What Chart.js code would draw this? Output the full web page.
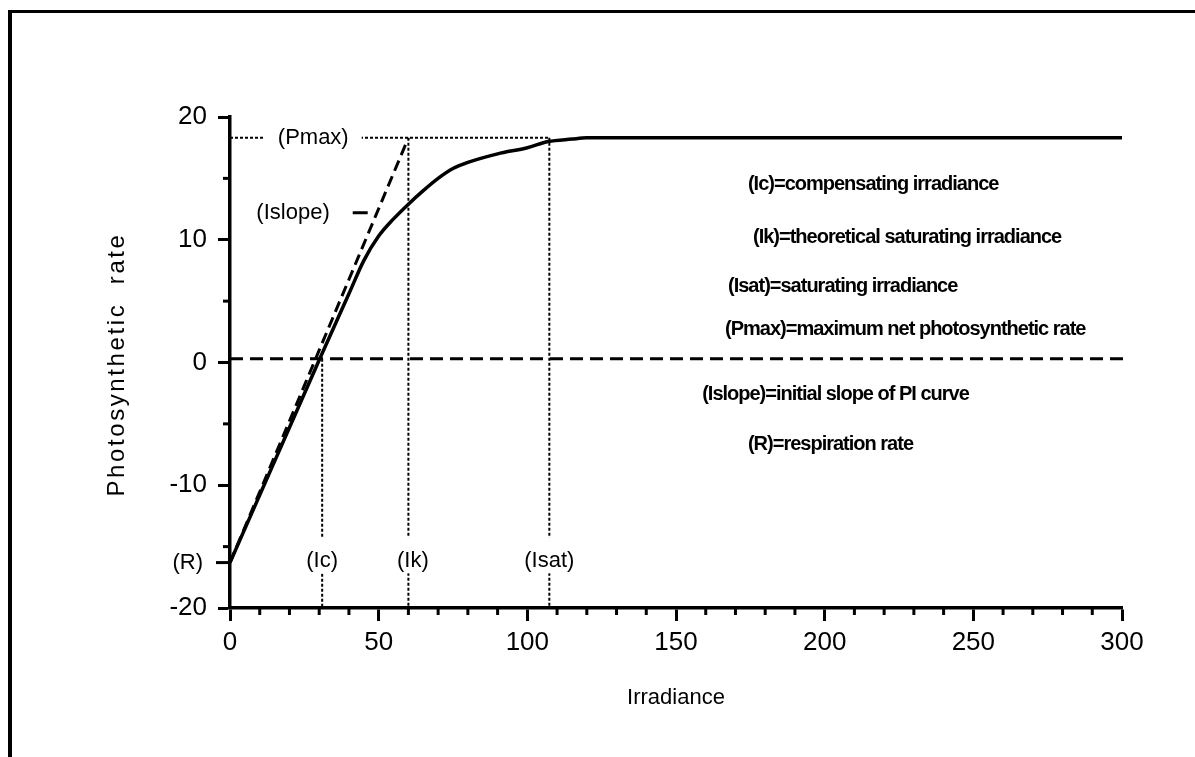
<!DOCTYPE html>
<html>
<head>
<meta charset="utf-8">
<title>PI curve</title>
<script src="https://cdn.jsdelivr.net/npm/chart.js@4.4.1/dist/chart.umd.min.js"></script>
<style>
  html, body { margin: 0; padding: 0; background: #fff; }
  #wrap { position: relative; width: 1195px; height: 757px; overflow: hidden; }
  #frame { position: absolute; left: 8px; top: 10px; right: -10px; bottom: -10px;
           border-top: 3px solid #000; border-left: 4px solid #000; }
  #piChart { position: absolute; left: 0; top: 0; }
</style>
</head>
<body>
<div id="wrap">
  <div id="frame"></div>
  <canvas id="piChart" width="1195" height="757"></canvas>
</div>
<script>
// PI curve: net photosynthetic rate against irradiance
const irradiance = [0, 10, 20, 30, 40, 45, 50, 55, 60, 65, 70, 75, 80, 90, 100, 107, 115, 120, 150, 200, 250, 300];
const photoRate  = [-16.3, -10.8, -5.3, 0.2, 5.6, 8.3, 10.3, 11.7, 12.9, 14.0, 15.0, 15.8, 16.3, 17.0, 17.5, 18.0, 18.2, 18.3, 18.3, 18.3, 18.3, 18.3];

// characteristic points
const respiration = -16.3;   // (R)
const pMax = 18.3;           // (Pmax)
const zeroLine = 0.3;        // dashed "zero" reference line
const zeroLineEnd = 302;
const iC = 31;               // (Ic)
const iK = 60;               // (Ik)
const iSat = 107.4;          // (Isat)

// axes
const xTicks = [0, 50, 100, 150, 200, 250, 300];
const xMinorTicks = [10, 20, 30, 40, 60, 70, 80, 90, 110, 120, 130, 140, 160, 170, 180, 190,
                     210, 220, 230, 240, 260, 270, 280, 290];
const yTicks = [-20, -10, 0, 10, 20];
const yMinorTicks = [-15, -5, 5, 15];

const definitions = [
  '(Ic)=compensating irradiance',
  '(Ik)=theoretical saturating irradiance',
  '(Isat)=saturating irradiance',
  '(Pmax)=maximum net photosynthetic rate',
  '(Islope)=initial slope of PI curve',
  '(R)=respiration rate'
];

const SANS = '"Liberation Sans", Arial, Helvetica, sans-serif';

function seg(x0, y0, x1, y1) { return [{ x: x0, y: y0 }, { x: x1, y: y1 }]; }

function lineSet(data, width, dash) {
  return {
    data: data, borderColor: '#000', borderWidth: width, borderDash: dash || [],
    pointRadius: 0, fill: false, tension: 0
  };
}

// labels sitting on the chart, anchored in data units
const markLabels = [
  { text: '(Pmax)', x: 28, y: pMax, gap: true },
  { text: '(Islope)', x: 21.2, y: 12.2, gap: false, pointer: true },
  { text: '(Ic)', x: iC, y: respiration + 0.1, gap: true },
  { text: '(Ik)', x: iK + 1.5, y: respiration + 0.1, gap: true },
  { text: '(Isat)', x: iSat, y: respiration + 0.1, gap: true }
];
const definitionAnchors = [
  [174.2, 14.5], [175.9, 10.2], [167.5, 6.2], [166.5, 2.7], [158.8, -2.6], [174.2, -6.7]
];

const decor = {
  id: 'decor',
  afterDatasetsDraw(chart) {
    const ctx = chart.ctx;
    const x = chart.scales.x, y = chart.scales.y;
    ctx.save();
    ctx.strokeStyle = '#000';
    ctx.lineWidth = 3;
    ctx.lineCap = 'butt';
    function tick(x0, y0, x1, y1) { ctx.beginPath(); ctx.moveTo(x0, y0); ctx.lineTo(x1, y1); ctx.stroke(); }
    xMinorTicks.forEach(v => { const px = x.getPixelForValue(v); tick(px, y.bottom, px, y.bottom + 7); });
    yMinorTicks.forEach(v => { const py = y.getPixelForValue(v); tick(x.left - 7, py, x.left, py); });
    const rPy = y.getPixelForValue(respiration);
    tick(x.left - 14, rPy, x.left, rPy);

    ctx.font = '22px ' + SANS;
    ctx.textBaseline = 'middle';
    ctx.textAlign = 'right';
    ctx.fillStyle = '#000';
    ctx.fillText('(R)', x.left - 27, rPy);

    ctx.textAlign = 'center';
    markLabels.forEach(l => {
      const px = x.getPixelForValue(l.x), py = y.getPixelForValue(l.y);
      const w = ctx.measureText(l.text).width;
      if (l.gap) {
        ctx.fillStyle = '#fff';
        ctx.fillRect(px - w / 2 - 13, py - 24, w + 26, 36);
      }
      ctx.fillStyle = '#000';
      ctx.fillText(l.text, px, py);
      if (l.pointer) tick(px + w / 2 + 23, py, px + w / 2 + 38, py);
    });

    // narrow bold look of the key text
    ctx.font = 'bold 20px ' + SANS;
    ctx.letterSpacing = '-1px';
    ctx.textAlign = 'left';
    definitions.forEach((t, i) => {
      const a = definitionAnchors[i];
      ctx.fillText(t, x.getPixelForValue(a[0]), y.getPixelForValue(a[1]));
    });

    // y axis title, letter-spaced like the original
    ctx.translate(117, (y.top + y.bottom) / 2 + 2);
    ctx.rotate(-Math.PI / 2);
    ctx.font = '24px ' + SANS;
    ctx.letterSpacing = '2.6px';
    ctx.textAlign = 'center';
    ctx.fillText('Photosynthetic  rate', 0, 0);
    ctx.restore();
  }
};

const datasets = [
  Object.assign(lineSet(irradiance.map((v, i) => ({ x: v, y: photoRate[i] })), 3.5), { cubicInterpolationMode: 'monotone' }),
  lineSet(seg(0, respiration, iK, pMax), 3, [11, 6]),
  Object.assign(lineSet(seg(0, zeroLine, zeroLineEnd, zeroLine), 3, [13, 7]), { clip: false }),
  lineSet(seg(0, pMax, iSat, pMax), 2, [3, 2]),
  lineSet(seg(iC, zeroLine, iC, -20), 2, [3, 2]),
  lineSet(seg(iK, pMax, iK, -20), 2, [3, 2]),
  lineSet(seg(iSat, pMax, iSat, -20), 2, [3, 2])
];

new Chart(document.getElementById('piChart'), {
  type: 'line',
  data: { datasets: datasets },
  options: {
    responsive: false,
    animation: false,
    events: [],
    layout: { padding: { top: 117, right: 73, left: 0, bottom: 0 } },
    plugins: { legend: { display: false }, tooltip: { enabled: false } },
    scales: {
      x: {
        type: 'linear', min: 0, max: 300,
        afterBuildTicks: s => { s.ticks = xTicks.map(v => ({ value: v })); },
        afterFit: s => { s.height = 149; },
        grid: { drawOnChartArea: false, drawTicks: true, tickLength: 13, tickWidth: 3, color: '#000' },
        border: { display: true, color: '#000', width: 3.5 },
        ticks: { color: '#000', font: { family: SANS, size: 26 }, padding: 6, maxRotation: 0 },
        title: { display: true, text: 'Irradiance', color: '#000',
                 font: { family: SANS, size: 22 }, padding: { top: 0, bottom: 46 } }
      },
      y: {
        type: 'linear', min: -20, max: 20,
        afterBuildTicks: s => { s.ticks = yTicks.map(v => ({ value: v })); },
        afterFit: s => { s.width = 230; },
        grid: { drawOnChartArea: false, drawTicks: true, tickLength: 12, tickWidth: 3, color: '#000' },
        border: { display: true, color: '#000', width: 3.5 },
        ticks: { color: '#000', font: { family: SANS, size: 26 }, padding: 11 },
        title: { display: false }
      }
    }
  },
  plugins: [decor]
});
</script>
</body>
</html>
